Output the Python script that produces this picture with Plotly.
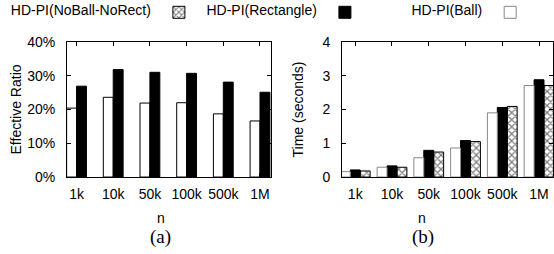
import plotly.graph_objects as go

categories = ["1k", "10k", "50k", "100k", "500k", "1M"]
ratio_ball = [20.4, 23.6, 21.9, 22.0, 18.7, 16.6]
ratio_rect = [26.9, 31.8, 31.0, 30.7, 28.1, 25.1]
time_ball = [0.16, 0.29, 0.57, 0.86, 1.90, 2.71]
time_rect = [0.21, 0.33, 0.79, 1.08, 2.06, 2.88]
time_nobn = [0.18, 0.29, 0.74, 1.05, 2.09, 2.71]
y1_ticks = [0, 10, 20, 30, 40]
y1_labels = ["0%", "10%", "20%", "30%", "40%"]
y2_ticks = [0, 1, 2, 3, 4]

W = 0.27
FONT = "Liberation Sans, Arial, Helvetica, sans-serif"
SERIF = "Liberation Serif, Times New Roman, serif"

fig = go.Figure()

# (a) Effective ratio
fig.add_trace(go.Bar(x=categories, y=ratio_ball, width=W, offset=-W,
                     marker=dict(color="white", line=dict(color="black", width=1)),
                     showlegend=False, xaxis="x", yaxis="y"))
fig.add_trace(go.Bar(x=categories, y=ratio_rect, width=W, offset=0,
                     marker=dict(color="black", line=dict(color="black", width=1)),
                     showlegend=False, xaxis="x", yaxis="y"))

# (b) Time
fig.add_trace(go.Bar(x=categories, y=time_nobn, width=W, offset=W / 2,
                     marker=dict(color="white", line=dict(color="black", width=1),
                                 pattern=dict(shape="x", fgcolor="black", bgcolor="white",
                                              size=5, solidity=0.45)),
                     name="", legend="legend", xaxis="x2", yaxis="y2"))
fig.add_trace(go.Bar(x=categories, y=time_rect, width=W, offset=-W / 2,
                     marker=dict(color="black", line=dict(color="black", width=1)),
                     name="", legend="legend2", xaxis="x2", yaxis="y2"))
fig.add_trace(go.Bar(x=categories, y=time_ball, width=W, offset=-1.5 * W,
                     marker=dict(color="white", line=dict(color="#888888", width=1)),
                     name="", legend="legend3", xaxis="x2", yaxis="y2"))

axis_common = dict(showline=True, linecolor="black", linewidth=1, mirror="ticks",
                   ticks="inside", ticklen=4, tickcolor="black", showgrid=False,
                   zeroline=False, automargin=False,
                   tickfont=dict(size=14, color="black", family=FONT))

leg_common = dict(orientation="h", yanchor="middle", xanchor="left",
                  bgcolor="rgba(0,0,0,0)", borderwidth=0,
                  font=dict(size=14, color="black", family=FONT), itemwidth=30)

ann_common = dict(xref="paper", yref="paper", showarrow=False,
                  xanchor="center", yanchor="middle")

fig.update_layout(
    width=554, height=254,
    margin=dict(l=0, r=0, t=0, b=0, autoexpand=False),
    paper_bgcolor="white", plot_bgcolor="white",
    font=dict(family=FONT, color="black"),
    barmode="overlay",
    xaxis=dict(domain=[67 / 554, 271 / 554], type="category", range=[-0.26, 5.30],
               anchor="y", ticklabelstandoff=4, **axis_common),
    yaxis=dict(domain=[0.303, 0.835], range=[0, 40], tickvals=y1_ticks, ticktext=y1_labels,
               anchor="x", ticklabelstandoff=8,
               title=dict(text="Effective Ratio", font=dict(size=14, family=FONT), standoff=2),
               **axis_common),
    xaxis2=dict(domain=[342 / 554, 553 / 554], type="category", range=[-0.36, 5.38],
                anchor="y2", ticklabelstandoff=4, **axis_common),
    yaxis2=dict(domain=[0.303, 0.835], range=[0, 4], tickvals=y2_ticks,
                anchor="x2", ticklabelstandoff=8,
                title=dict(text="Time (seconds)", font=dict(size=14, family=FONT), standoff=15),
                **axis_common),
    legend=dict(x=0.016, y=0.95, title=dict(text="HD-PI(NoBall-NoRect)", side="left",
                                            font=dict(size=14, family=FONT)), **leg_common),
    legend2=dict(x=0.369, y=0.95, title=dict(text="HD-PI(Rectangle)", side="left",
                                             font=dict(size=14, family=FONT)), **leg_common),
    legend3=dict(x=0.739, y=0.95, title=dict(text="HD-PI(Ball)", side="left",
                                             font=dict(size=14, family=FONT)), **leg_common),
    annotations=[
        dict(text="n", x=161 / 554, y=1 - 218 / 254, font=dict(size=14), **ann_common),
        dict(text="n", x=422 / 554, y=1 - 218 / 254, font=dict(size=14), **ann_common),
        dict(text="(a)", x=160 / 554, y=1 - 237 / 254, font=dict(size=19, family=SERIF), **ann_common),
        dict(text="(b)", x=423 / 554, y=1 - 237 / 254, font=dict(size=19, family=SERIF), **ann_common),
    ],
)

fig.write_html("out.html", config={"displayModeBar": False},
               post_script="document.body.style.margin='0';document.body.style.overflow='hidden';")
